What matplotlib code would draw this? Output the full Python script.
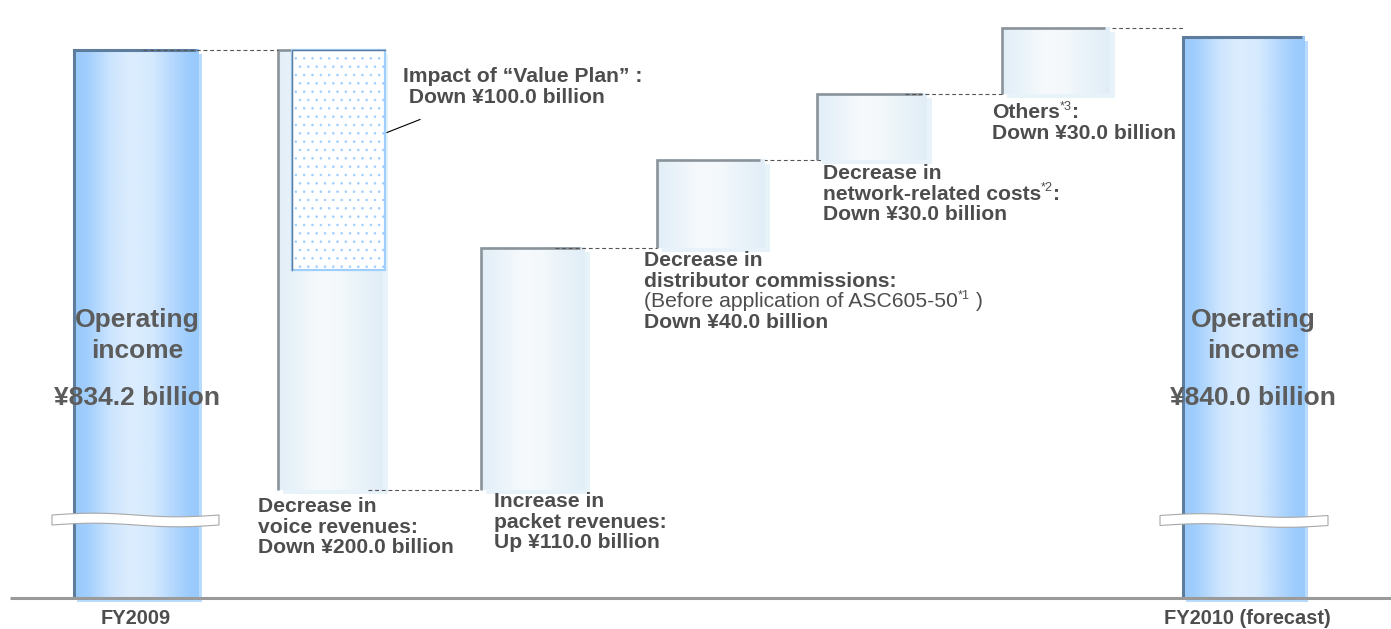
import numpy as np
import matplotlib
matplotlib.use("Agg")
import matplotlib.pyplot as plt
from matplotlib.colors import LinearSegmentedColormap
from matplotlib.patches import Rectangle, Polygon

plt.rcParams['font.family'] = ['Liberation Sans', 'DejaVu Sans']
plt.rcParams['hatch.linewidth'] = 0.6

# ---------------------------------------------------------------- data
# Operating income, ¥ billion
period_labels = ["FY2009", "FY2010 (forecast)"]
operating_income = [834.2, 840.0]

# Drivers of the change in operating income, ¥ billion (effect on income)
driver_changes = [-200.0, 110.0, 40.0, 30.0, 30.0]
driver_words = ["Down", "Up", "Down", "Down", "Down"]
driver_headings = [
    [("Decrease in", "bold"), ("voice revenues:", "bold")],
    [("Increase in", "bold"), ("packet revenues:", "bold")],
    [("Decrease in", "bold"), ("distributor commissions:", "bold"),
     ("(Before application of ASC605-50^*1^ )", "normal")],
    [("Decrease in", "bold"), ("network-related costs^*2^:", "bold")],
    [("Others^*3^:", "bold")],
]

# Portion of the voice decline caused by the "Value Plan"
value_plan_change = -100.0
value_plan_heading = "Impact of \u201cValue Plan\u201d :"

# ---------------------------------------------------------------- layout
W, H = 1391, 629
Y_HI, Y_LO = 856.7, 570.8          # value range shown (axis is broken)
FLOOR = 584.9                      # broken-axis floor where the totals stand
K = (Y_HI - Y_LO) / H              # ¥ billion per pixel

bar_spans = [(74, 199), (278, 383), (481, 585), (657, 765),
             (817, 927), (1002, 1110), (1183, 1305)]
label_offsets = [(-20, 17), (13, 12), (-13, 13), (6, 14), (-10, 19)]
connector_starts = [143, 368, 555, 750, 905, 1112]
LINE_STEP = 20.7
LABEL_SIZE = 15.2
TOTAL_SIZE = 19
TEXT_COLOR = "#4d4d4d"
TOTAL_TEXT_COLOR = "#5c5c5c"

fy_cmap = LinearSegmentedColormap.from_list("fy", [
    (0.0, "#99cafc"), (0.1, "#a0cefd"), (0.3, "#cde5fe"), (0.45, "#dcedfe"),
    (0.62, "#d6eafe"), (0.8, "#b3d7fe"), (0.92, "#9dccfd"), (1.0, "#99cafc")])
step_cmap = LinearSegmentedColormap.from_list("step", [
    (0.0, "#e2eef7"), (0.15, "#e8f2f9"), (0.4, "#f7fafc"), (0.6, "#f3f8fb"),
    (0.85, "#e6f1f8"), (1.0, "#e2eef7")])
grad = np.linspace(0, 1, 256)[None, :]

fig = plt.figure(figsize=(W / 100, H / 100), dpi=100)
ax = fig.add_axes([0, 0, 1, 1])
ax.set_autoscale_on(False)
ax.set_xlim(0, W)
ax.set_ylim(Y_LO, Y_HI)
ax.axis("off")

ov = fig.add_axes([0, 0, 1, 1])
ov.set_xlim(0, W)
ov.set_ylim(H, 0)
ov.axis("off")
renderer = fig.canvas.get_renderer()


def to_px(v):
    return (Y_HI - v) / K


def draw_bar(x0, x1, lo, hi, cmap, border, shadow, bw, sx):
    ax.add_patch(Rectangle((x0 + sx, lo - 4 * K), x1 - x0, hi - lo - 4 * K + 4 * K,
                           fc=shadow, ec="none", zorder=2))
    ax.imshow(grad, cmap=cmap, extent=(x0, x1, lo, hi), aspect="auto",
              interpolation="bilinear", zorder=3)
    ax.plot([x0, x0, x1 - sx], [lo, hi, hi], color=border, lw=bw,
            solid_capstyle="butt", solid_joinstyle="miter", zorder=4)


def text_line(x, y, src, weight, size, color):
    cx = x
    for i, part in enumerate(src.split("^")):
        if not part:
            continue
        sup = i % 2 == 1
        t = ov.text(cx, y - (6 if sup else 0), part,
                    fontsize=size * (0.6 if sup else 1),
                    fontweight="normal" if sup else weight,
                    color=color, ha="left", va="center", zorder=10)
        cx += t.get_window_extent(renderer).width


def break_mark(xa, xb, yc):
    t = np.linspace(0, 1, 80)
    xs = xa + (xb - xa) * t
    wave = -1.8 * np.sin(2 * np.pi * t)
    top = yc - 5 + wave
    bot = yc + 5 + wave
    pts = np.vstack([np.column_stack([xs, top]),
                     np.column_stack([xs[::-1], bot[::-1]])])
    ov.add_patch(Polygon(pts, closed=True, fc="white", ec="#a8a8a8",
                         lw=0.8, zorder=6))


# running levels of the waterfall
levels = [operating_income[0]]
for c in driver_changes:
    levels.append(levels[-1] + c)

# totals
for (x0, x1), v in [(bar_spans[0], operating_income[0]),
                    (bar_spans[-1], operating_income[1])]:
    draw_bar(x0, x1, FLOOR, v, fy_cmap, "#5e7d9c", "#b8dbfe", 2.2, 3)

# drivers
for i, c in enumerate(driver_changes):
    x0, x1 = bar_spans[i + 1]
    lo, hi = sorted([levels[i], levels[i + 1]])
    draw_bar(x0, x1, lo, hi, step_cmap, "#8a9399", "#e8f2f9", 1.9, 5)

# value-plan share inside the voice bar
vx0, vx1 = 292, 385
vtop = levels[0]
vbot = levels[0] + value_plan_change
ax.add_patch(Rectangle((vx0, vbot), vx1 - vx0, vtop - vbot, fc="white",
                       ec="#9fcfff", lw=1.6, hatch="..", zorder=5))
ax.plot([vx0, vx0, vx1], [vbot, vtop, vtop], color="#5e7d9c", lw=1.0, zorder=6)

# dashed connectors between consecutive levels
ends = [b[0] for b in bar_spans[1:]]
ends[3] = 850
conn_levels = levels[:]
for xs, xe, v in zip(connector_starts, ends, conn_levels):
    ax.plot([xs, xe], [v, v], color="#555555", lw=0.8, ls=(0, (3.5, 2.5)),
            zorder=4.5 if xe != 850 else 1)

# baseline and axis breaks
ov.plot([10, W], [to_px(FLOOR), to_px(FLOOR)], color="#9a9a9a", lw=2.2,
        solid_capstyle="butt", zorder=7)
break_mark(52, 219, 520)
break_mark(1160, 1328, 520.5)

# period labels under the baseline
ov.text(136, 619, period_labels[0], fontsize=LABEL_SIZE * 0.95, fontweight="bold",
        color=TEXT_COLOR, ha="center", va="center")
ov.text(1247, 619, period_labels[1], fontsize=LABEL_SIZE * 0.95, fontweight="bold",
        color=TEXT_COLOR, ha="center", va="center")

# totals written inside the bars
for cx, v in [(137.5, operating_income[0]), (1253, operating_income[1])]:
    ov.text(cx, 320, "Operating", fontsize=TOTAL_SIZE, fontweight="bold",
            color=TOTAL_TEXT_COLOR, ha="center", va="center", zorder=10)
    ov.text(cx, 351, "income", fontsize=TOTAL_SIZE, fontweight="bold",
            color=TOTAL_TEXT_COLOR, ha="center", va="center", zorder=10)
    ov.text(cx, 398, f"\u00a5{v:.1f} billion", fontsize=TOTAL_SIZE,
            fontweight="bold", color=TOTAL_TEXT_COLOR, ha="center",
            va="center", zorder=10)

# driver labels, placed beneath each step
for i, c in enumerate(driver_changes):
    x0, x1 = bar_spans[i + 1]
    lo = min(levels[i], levels[i + 1])
    dx, dy = label_offsets[i]
    lines = driver_headings[i] + [
        (f"{driver_words[i]} \u00a5{abs(c):.1f} billion", "bold")]
    y = to_px(lo) + dy
    for text, weight in lines:
        text_line(x0 + dx, y, text, weight, LABEL_SIZE, TEXT_COLOR)
        y += LINE_STEP

# value-plan callout
ptop = to_px(vtop)
ov.plot([vx1 + 2, 420], [ptop + 83, ptop + 70], color="black", lw=0.8, zorder=8)
text_line(403, ptop + 27, value_plan_heading, "bold", LABEL_SIZE, TEXT_COLOR)
text_line(403, ptop + 27 + LINE_STEP,
          f" Down \u00a5{abs(value_plan_change):.1f} billion", "bold",
          LABEL_SIZE, TEXT_COLOR)

fig.savefig("out.png", dpi=100, facecolor="white")
